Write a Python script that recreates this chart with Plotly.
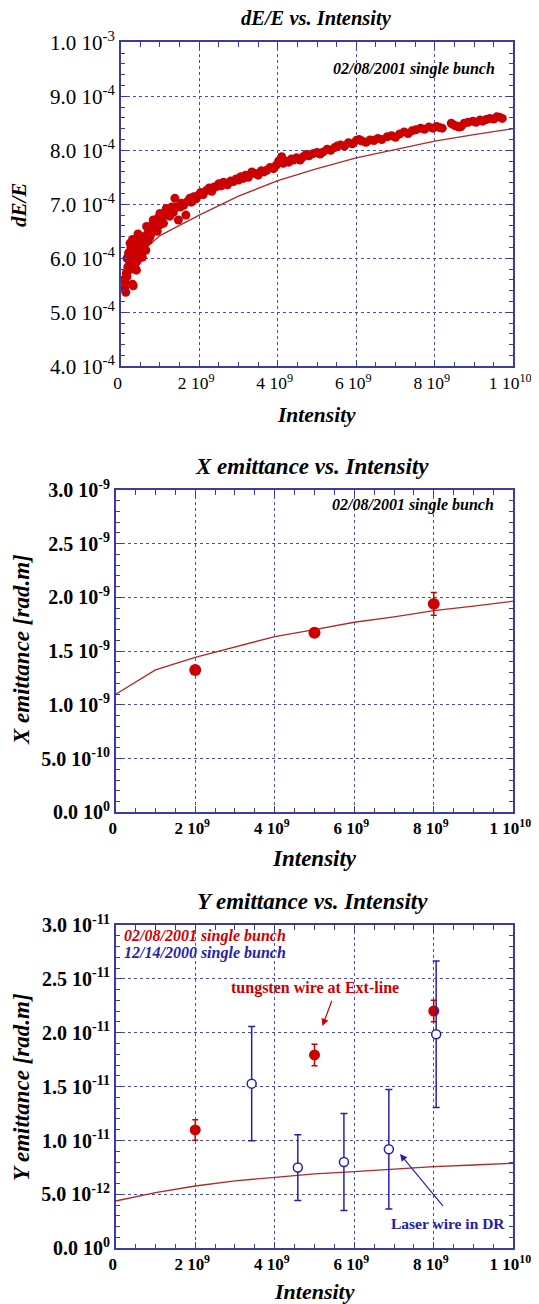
import plotly.graph_objects as go

# page is 539x1304; the html body keeps its default 8px margin, so the figure
# is made 8px smaller and all positions below are given in page pixels.
PAGE_W, PAGE_H = 539, 1304
OFF = 8
W, H = PAGE_W - OFF, PAGE_H - OFF

# ---------------- data ----------------
# Top panel: dE/E vs intensity (intensity in 1e9, dE/E in 1e-4)
de_int = [0.07,0.10,0.13,0.12,0.14,0.16,0.18,0.20,0.22,0.24,0.24,0.26,0.28,0.30,0.32,0.30,0.34,0.36,0.38,0.40,
          0.42,0.44,0.46,0.48,0.50,0.52,0.55,0.58,0.60,0.62,0.64,0.66,0.68,0.70,0.72,0.75,0.78,0.80,0.83,0.86,
          0.90,0.93,0.96,1.00,1.00,1.04,1.09,1.12,1.16,1.21,1.25,1.30,1.34,1.38,1.42,1.47,1.51,1.55,1.60,1.66,
          1.70,1.76,1.80,1.86,1.92,1.98,2.04,2.10,2.19,2.25,2.32,2.38,2.44,2.50,2.56,2.62,2.66,2.72,2.80,2.87,
          2.94,3.00,3.06,3.12,3.18,3.25,3.34,3.42,3.50,3.58,3.65,3.72,3.80,3.89,3.96,4.02,4.10,4.14,4.20,4.28,
          4.35,4.40,4.48,4.57,4.65,4.72,4.80,4.91,5.00,5.08,5.16,5.26,5.35,5.45,5.52,5.60,5.70,5.80,5.90,6.00,
          6.07,6.15,6.25,6.35,6.45,6.55,6.65,6.79,6.90,7.00,7.10,7.22,7.32,7.42,7.52,7.64,7.74,7.85,7.95,8.05,
          8.12,8.19,8.42,8.48,8.55,8.62,8.67,8.75,8.85,8.97,9.05,9.15,9.22,9.31,9.40,9.50,9.58,9.65,9.72,
          0.16,0.20,0.30,0.36,0.44,0.52,0.26]
de_val = [5.60,5.45,5.37,5.55,5.72,5.66,5.84,5.78,5.96,6.05,6.28,6.20,6.12,5.90,5.49,5.52,6.00,6.25,6.32,5.78,
          5.95,6.10,6.30,6.09,6.35,6.18,6.02,6.21,6.40,6.28,6.15,6.59,6.45,6.33,6.52,6.40,6.60,6.48,6.71,6.55,
          6.66,6.50,6.75,6.83,6.62,6.70,6.65,6.80,6.92,6.89,6.78,6.95,6.85,7.11,6.95,6.71,6.95,7.02,6.98,6.80,
          7.05,7.11,7.04,7.14,7.10,7.17,7.22,7.18,7.26,7.30,7.24,7.32,7.33,7.38,7.34,7.41,7.39,7.36,7.43,7.42,
          7.47,7.45,7.51,7.48,7.54,7.50,7.60,7.57,7.54,7.62,7.60,7.63,7.68,7.66,7.72,7.80,7.88,7.76,7.80,7.78,
          7.84,7.82,7.86,7.82,7.88,7.92,7.90,7.94,7.96,7.93,7.97,8.02,8.00,8.05,8.08,8.10,8.08,8.14,8.12,8.18,
          8.20,8.17,8.15,8.19,8.18,8.22,8.20,8.25,8.27,8.24,8.30,8.34,8.31,8.36,8.38,8.41,8.39,8.43,8.41,8.44,
          8.42,8.41,8.50,8.47,8.45,8.43,8.44,8.50,8.52,8.54,8.52,8.56,8.54,8.57,8.59,8.58,8.62,8.61,8.59,
          6.00,6.10,6.35,5.85,6.45,6.40,5.80]
de_th_int = [0.5, 1, 2, 3, 4, 5, 6, 7, 8, 9, 10]
de_th_val = [6.10, 6.42, 6.80, 7.15, 7.44, 7.66, 7.86, 8.02, 8.17, 8.29, 8.40]

# Middle panel: X emittance (intensity 1e9, emittance 1e-9 rad.m)
xe_int = [2.0, 5.0, 8.0]
xe_val = [1.325, 1.672, 1.94]
xe_err = [0.03, 0.03, 0.105]
xe_th_int = [0, 1, 2, 3, 4, 5, 6, 7, 8, 9, 10]
xe_th_val = [1.099, 1.325, 1.443, 1.54, 1.635, 1.70, 1.769, 1.82, 1.877, 1.92, 1.965]

# Bottom panel: Y emittance (intensity 1e9, emittance 1e-11 rad.m)
ye_red_int = [2.0, 5.0, 8.0]
ye_red_val = [1.098, 1.794, 2.202]
ye_red_err = [0.095, 0.10, 0.10]
ye_blue_int = [3.42, 4.58, 5.74, 6.87, 8.06]
ye_blue_val = [1.528, 0.749, 0.801, 0.919, 1.986]
ye_blue_err = [0.53, 0.305, 0.45, 0.555, 0.68]
ye_th_int = [0, 1, 2, 3, 4, 5, 6, 7, 8, 9, 10]
ye_th_val = [0.439, 0.517, 0.578, 0.625, 0.659, 0.69, 0.711, 0.736, 0.758, 0.773, 0.789]

# Tick labels
x_tickvals = [0, 2e9, 4e9, 6e9, 8e9, 1e10]
x_ticktext = ["0", "2 10<sup>9</sup>", "4 10<sup>9</sup>", "6 10<sup>9</sup>", "8 10<sup>9</sup>", "1 10<sup>10</sup>"]
y1_tickvals = [4e-4, 5e-4, 6e-4, 7e-4, 8e-4, 9e-4, 1e-3]
y1_ticktext = ["4.0 10<sup>-4</sup>", "5.0 10<sup>-4</sup>", "6.0 10<sup>-4</sup>", "7.0 10<sup>-4</sup>",
               "8.0 10<sup>-4</sup>", "9.0 10<sup>-4</sup>", "1.0 10<sup>-3</sup>"]
y2_tickvals = [0, 0.5e-9, 1.0e-9, 1.5e-9, 2.0e-9, 2.5e-9, 3.0e-9]
y2_ticktext = ["0.0 10<sup>0</sup>", "5.0 10<sup>-10</sup>", "1.0 10<sup>-9</sup>", "1.5 10<sup>-9</sup>",
               "2.0 10<sup>-9</sup>", "2.5 10<sup>-9</sup>", "3.0 10<sup>-9</sup>"]
y3_tickvals = [0, 0.5e-11, 1.0e-11, 1.5e-11, 2.0e-11, 2.5e-11, 3.0e-11]
y3_ticktext = ["0.0 10<sup>0</sup>", "5.0 10<sup>-12</sup>", "1.0 10<sup>-11</sup>", "1.5 10<sup>-11</sup>",
               "2.0 10<sup>-11</sup>", "2.5 10<sup>-11</sup>", "3.0 10<sup>-11</sup>"]

# ---------------- styling ----------------
RED = "#cc0000"
LINE_RED = "#b02828"
BLUE = "#2222b0"
AX = "#3a3aa8"
GRID = "#4a4ab8"
FONT = "Liberation Serif"

def e9(v):
    return [a * 1e9 for a in v]

fig = go.Figure()

# top
fig.add_trace(go.Scatter(x=e9(de_th_int), y=[v * 1e-4 for v in de_th_val], mode="lines",
                         line=dict(color=LINE_RED, width=1.3), xaxis="x", yaxis="y"))
fig.add_trace(go.Scatter(x=e9(de_int), y=[v * 1e-4 for v in de_val], mode="markers",
                         marker=dict(color=RED, size=9), xaxis="x", yaxis="y"))
# middle
fig.add_trace(go.Scatter(x=e9(xe_th_int), y=[v * 1e-9 for v in xe_th_val], mode="lines",
                         line=dict(color=LINE_RED, width=1.3), xaxis="x2", yaxis="y2"))
fig.add_trace(go.Scatter(x=e9(xe_int), y=[v * 1e-9 for v in xe_val], mode="markers",
                         marker=dict(color=RED, size=12),
                         error_y=dict(type="data", array=[v * 1e-9 for v in xe_err], color=RED,
                                      thickness=1.5, width=3),
                         xaxis="x2", yaxis="y2"))
# bottom
fig.add_trace(go.Scatter(x=e9(ye_th_int), y=[v * 1e-11 for v in ye_th_val], mode="lines",
                         line=dict(color=LINE_RED, width=1.3), xaxis="x3", yaxis="y3"))
fig.add_trace(go.Scatter(x=e9(ye_red_int), y=[v * 1e-11 for v in ye_red_val], mode="markers",
                         marker=dict(color=RED, size=11),
                         error_y=dict(type="data", array=[v * 1e-11 for v in ye_red_err], color=RED,
                                      thickness=1.5, width=3),
                         xaxis="x3", yaxis="y3"))
fig.add_trace(go.Scatter(x=e9(ye_blue_int), y=[v * 1e-11 for v in ye_blue_val], mode="markers",
                         marker=dict(color="white", size=9, line=dict(color=BLUE, width=1.5)),
                         error_y=dict(type="data", array=[v * 1e-11 for v in ye_blue_err], color=BLUE,
                                      thickness=1.5, width=3.5),
                         xaxis="x3", yaxis="y3"))


def axis(domain, anchor, rng, tv, tt, minor_dtick, minor_tick0, bold=True, size=16, shift=0):
    return dict(domain=domain, anchor=anchor, range=rng, tickmode="array", tickvals=tv, ticktext=tt,
                showline=True, linecolor=AX, linewidth=1.5, mirror="allticks",
                ticks="inside", ticklen=7, tickwidth=1.2, tickcolor=AX,
                showgrid=True, gridcolor=GRID, griddash="dot", gridwidth=1, zeroline=False,
                automargin=False, ticklabelshift=shift,
                tickfont=dict(family=FONT, size=size, color="black", weight="bold" if bold else "normal"),
                minor=dict(ticks="inside", ticklen=5, tickwidth=1.2, tickcolor=AX, showgrid=False,
                           tickmode="linear", tick0=minor_tick0, dtick=minor_dtick),
                fixedrange=True)


def px(x):
    return (x - OFF) / W


def py(y):
    return 1 - (y - OFF) / H


xd1 = [px(120.7), px(513.3)]
xd = [px(115.7), px(513.3)]
yd1 = [py(366.3), py(42.3)]
yd2 = [py(812.3), py(490)]
yd3 = [py(1248.3), py(925)]

fig.update_layout(
    template="none",
    width=W, height=H, margin=dict(l=0, r=0, t=0, b=0, pad=0, autoexpand=False),
    paper_bgcolor="white", plot_bgcolor="white", showlegend=False,
    xaxis=axis(xd1, "y", [0, 1e10], x_tickvals, x_ticktext, 5e8, 0, bold=False, size=17.5, shift=-3),
    yaxis=axis(yd1, "x", [4e-4, 1e-3], y1_tickvals, y1_ticktext, 2e-5, 4e-4, bold=False, size=21),
    xaxis2=axis(xd, "y2", [0, 1e10], x_tickvals, x_ticktext, 5e8, 0, size=17, shift=-3),
    yaxis2=axis(yd2, "x2", [0, 3e-9], y2_tickvals, y2_ticktext, 1e-10, 0, size=20),
    xaxis3=axis(xd, "y3", [0, 1e10], x_tickvals, x_ticktext, 5e8, 0, size=17, shift=-3),
    yaxis3=axis(yd3, "x3", [0, 3e-11], y3_tickvals, y3_ticktext, 1e-12, 0, size=20),
)

ann = []


def text(x, y, s, size=19, color="black", italic=True, bold=True, angle=0, xanchor="center"):
    ann.append(dict(x=px(x), y=py(y), xref="paper", yref="paper", text=s, showarrow=False,
                    textangle=angle, xanchor=xanchor, yanchor="middle",
                    font=dict(family=FONT, size=size, color=color,
                              style="italic" if italic else "normal",
                              weight="bold" if bold else "normal")))


# titles
text(316, 18.5, "dE/E vs. Intensity", size=20.5)
text(312, 466.5, "X emittance vs. Intensity", size=23)
text(312, 902, "Y emittance vs. Intensity", size=23)
# x axis titles
text(316, 415, "Intensity", size=21.5)
text(314.5, 858, "Intensity", size=23)
text(314.5, 1291, "Intensity", size=22)
# y axis titles
text(19, 205, "dE/E", size=21, angle=-90)
text(21, 650, "X emittance [rad.m]", size=23, angle=-90)
text(21, 1087, "Y emittance [rad.m]", size=23, angle=-90)
# in-plot notes
text(497, 69, "02/08/2001 single bunch", size=16, xanchor="right")
text(496, 505, "02/08/2001 single bunch", size=16, xanchor="right")
text(122, 935.5, "02/08/2001 single bunch", size=16, color=RED, xanchor="left")
text(122, 953, "12/14/2000 single bunch", size=16, color=BLUE, xanchor="left")
text(315, 988, "tungsten wire at Ext-line", size=16, color=RED, italic=False)
text(507, 1223, "Laser wire in DR", size=15.5, color=BLUE, italic=False, xanchor="right")

# arrows (data coordinates of bottom panel)
ann.append(dict(x=5.20e9, y=2.063e-11, ax=5.45e9, ay=2.311e-11, xref="x3", yref="y3", axref="x3", ayref="y3",
                text="", showarrow=True, arrowhead=2, arrowsize=1.2, arrowwidth=1.2, arrowcolor=RED))
ann.append(dict(x=7.15e9, y=0.875e-11, ax=8.26e9, ay=0.380e-11, xref="x3", yref="y3", axref="x3", ayref="y3",
                text="", showarrow=True, arrowhead=2, arrowsize=1.2, arrowwidth=1.2, arrowcolor=BLUE))

fig.update_layout(annotations=ann)

fig.write_html("out.html")
